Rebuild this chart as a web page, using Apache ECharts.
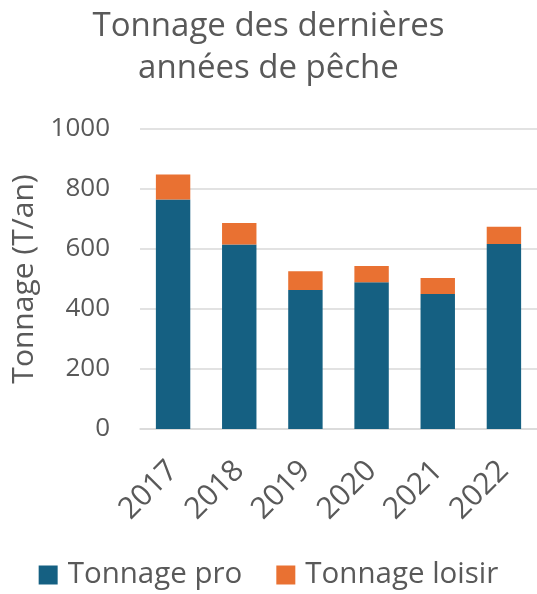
<!DOCTYPE html>
<html><head><meta charset="utf-8">
<script src="https://cdn.jsdelivr.net/npm/echarts@6/dist/echarts.min.js"></script>
<style>html,body{margin:0;padding:0;background:#fff}#c{width:537px;height:594px}</style>
</head><body><div id="c"></div>
<script>
const categories = ['2017','2018','2019','2020','2021','2022'];
const tonnagePro = [765, 615, 463, 489, 450, 617];
const tonnageLoisir = [83, 72, 63, 54, 53, 57];
const yTicks = [0, 200, 400, 600, 800, 1000];

const FONT = 'Open Sans';
const GREY = '#595959';
const chart = echarts.init(document.getElementById('c'), null, {renderer:'canvas'});
chart.setOption({
  animation: false,
  textStyle: {fontFamily: FONT},
  title: {
    text: 'Tonnage des dernières\nannées de pêche',
    left: 'center', top: 1,
    textStyle: {fontFamily: FONT, fontSize: 33, fontWeight: 'normal', color: GREY, lineHeight: 42}
  },
  legend: {
    bottom: -1, left: 'center',
    itemWidth: 19, itemHeight: 19, itemGap: 34,
    icon: 'rect',
    textStyle: {fontFamily: FONT, fontSize: 29.5, color: GREY, padding: [0,0,0,5]},
    data: ['Tonnage pro', 'Tonnage loisir']
  },
  grid: {left: 140, right: -3, top: 129, bottom: 165, containLabel: false},
  xAxis: {
    type: 'category', data: categories,
    axisTick: {show: false},
    axisLine: {lineStyle: {color: '#d9d9d9', width: 1.5}},
    axisLabel: {rotate: 45, fontFamily: FONT, fontSize: 30, color: GREY, margin: 37}
  },
  yAxis: {
    type: 'value', min: yTicks[0], max: yTicks[yTicks.length-1], interval: 200,
    name: 'Tonnage (T/an)', nameLocation: 'middle', nameGap: 94, nameRotate: 90,
    nameTextStyle: {fontFamily: FONT, fontSize: 30, color: GREY},
    axisLabel: {fontFamily: FONT, fontSize: 26, color: GREY, margin: 30,
                formatter: v => String(v)},
    splitLine: {lineStyle: {color: '#d9d9d9', width: 1.5}},
    axisLine: {show: false}, axisTick: {show: false}
  },
  series: [
    {name: 'Tonnage pro', type: 'bar', stack: 't', data: tonnagePro, barWidth: '52%',
     itemStyle: {color: '#156082'}},
    {name: 'Tonnage loisir', type: 'bar', stack: 't', data: tonnageLoisir, barWidth: '52%',
     itemStyle: {color: '#E97132'}}
  ]
});
</script></body></html>
